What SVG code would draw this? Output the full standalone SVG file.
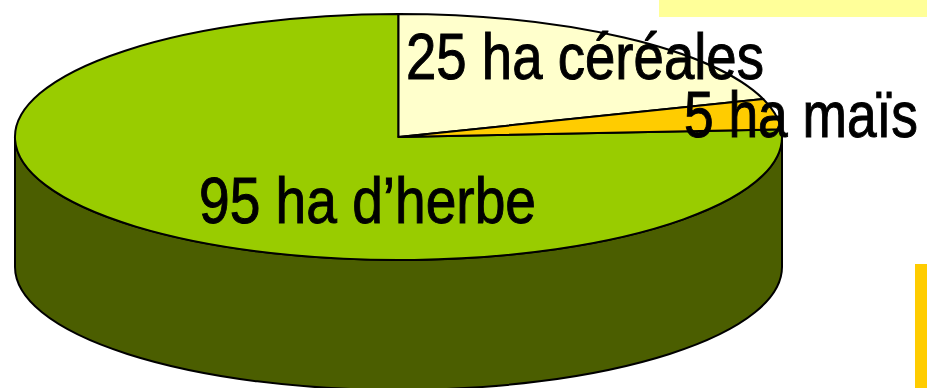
<svg xmlns="http://www.w3.org/2000/svg" width="927" height="388" viewBox="0 0 927 388">
  <style>
    .edge { stroke: #000; stroke-width: 2; stroke-linejoin: round; }
    .lbl { font-family: "Liberation Sans", Arial, sans-serif; font-size: 64px; fill: #000; stroke: #000; stroke-width: 1; }
  </style>
  <rect x="659" y="0" width="268" height="17" fill="#FFFF99"/>
  <rect x="915" y="264" width="12" height="124" fill="#FFCC00"/>
  <g id="pie-side">
    <path class="edge" fill="#4B5E00" d="M15,137 A383.5,123 0 0 0 782,137 L782,267 A383.5,123 0 0 1 15,267 Z"/>
  </g>
  <g id="slice-herbe">
    <path class="edge" fill="#99CC00" d="M398.5,137 L781.2,129.3 A383.5,123 0 1 1 398.5,14 Z"/>
  </g>
  <g id="slice-cereales">
    <path class="edge" fill="#FFFFCC" d="M398.5,137 L398.5,14 A383.5,123 0 0 1 763.2,99 Z"/>
  </g>
  <g id="slice-mais">
    <path class="edge" fill="#FFCC00" d="M398.5,137 L763.2,99 A383.5,123 0 0 1 781.2,129.3 Z"/>
  </g>
  <g id="labels">
    <text class="lbl" x="406" y="79" textLength="358" lengthAdjust="spacingAndGlyphs">25 ha céréales</text>
    <text class="lbl" x="684" y="137" textLength="234" lengthAdjust="spacingAndGlyphs">5 ha maïs</text>
    <text class="lbl" x="199" y="223" textLength="337" lengthAdjust="spacingAndGlyphs">95 ha d’herbe</text>
  </g>
</svg>
